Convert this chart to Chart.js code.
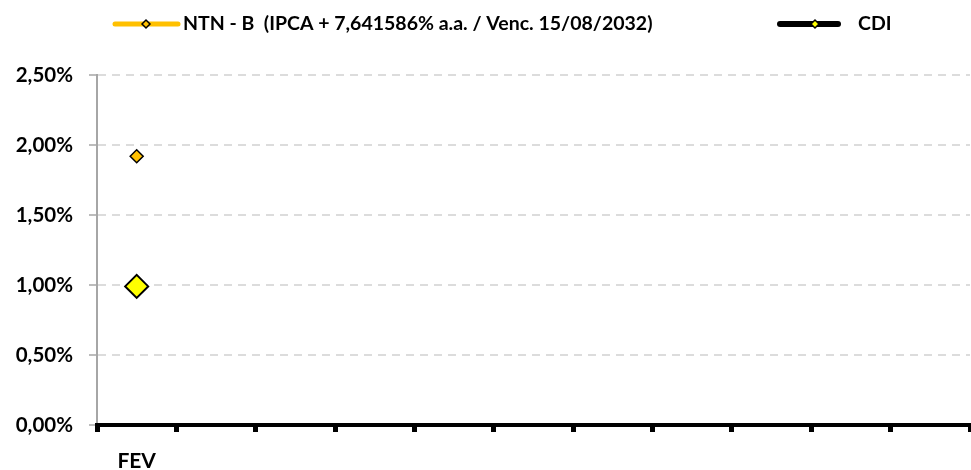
<!DOCTYPE html>
<html><head><meta charset="utf-8">
<script src="https://cdn.jsdelivr.net/npm/chart.js@4"></script>
<style>html,body{margin:0;padding:0;background:#fff}#wrap{width:971px;height:470px}</style>
</head><body><div id="wrap"><canvas id="c" width="971" height="470"></canvas></div>
<script>
const categories = ['FEV','','','','','','','','','',''];
const ntnbValues = [1.92, null, null, null, null, null, null, null, null, null, null];
const cdiValues = [0.99, null, null, null, null, null, null, null, null, null, null];
const seriesNames = ['NTN - B  (IPCA + 7,641586% a.a. / Venc. 15/08/2032)', 'CDI'];
const yTicks = [0, 0.5, 1, 1.5, 2, 2.5];

const FONT = 'Lato, "Open Sans", sans-serif';

const legendPlugin = {
  id: 'customLegend',
  afterDraw(chart) {
    const ctx = chart.ctx;
    const items = [
      {x1: 115, x2: 178, cx: 146, xt: 183, color: '#FFC000', lw: 5, dfill: '#FFC000', dr: 4, text: seriesNames[0]},
      {x1: 780, x2: 838, cx: 815, xt: 858, color: '#000000', lw: 6, dfill: '#FFFF00', dr: 4, text: seriesNames[1]}
    ];
    const y = 24;
    ctx.save();
    items.forEach(it => {
      ctx.beginPath();
      ctx.lineCap = 'round';
      ctx.strokeStyle = it.color;
      ctx.lineWidth = it.lw;
      ctx.moveTo(it.x1, y); ctx.lineTo(it.x2, y); ctx.stroke();
      const cx = it.cx;
      ctx.beginPath();
      ctx.moveTo(cx - it.dr, y); ctx.lineTo(cx, y - it.dr); ctx.lineTo(cx + it.dr, y); ctx.lineTo(cx, y + it.dr); ctx.closePath();
      ctx.fillStyle = it.dfill; ctx.fill();
      ctx.lineWidth = 1.5; ctx.strokeStyle = '#000'; ctx.stroke();
      ctx.fillStyle = '#000';
      ctx.font = 'bold 19.5px ' + FONT;
      ctx.textBaseline = 'middle';
      ctx.textAlign = 'left';
      ctx.fillText(it.text, it.xt, y);
    });
    ctx.restore();
  }
};

new Chart(document.getElementById('c'), {
  type: 'line',
  data: {
    labels: categories,
    datasets: [
      {label: seriesNames[0], data: ntnbValues, borderColor: '#FFC000', borderWidth: 5,
       pointStyle: 'rectRot', pointRadius: 6.5, pointBackgroundColor: '#FFC000', pointBorderColor: '#000', pointBorderWidth: 1.5},
      {label: seriesNames[1], data: cdiValues, borderColor: '#000', borderWidth: 6,
       pointStyle: 'rectRot', pointRadius: 11.5, pointBackgroundColor: '#FFFF00', pointBorderColor: '#000', pointBorderWidth: 2}
    ]
  },
  options: {
    responsive: false,
    animation: false,
    layout: {autoPadding: false, padding: {top: 75, right: 1, left: 0, bottom: 0}},
    plugins: {legend: {display: false}, tooltip: {enabled: false}},
    scales: {
      x: {
        offset: true,
        grid: {display: true, drawOnChartArea: false, drawTicks: true, offset: true, tickLength: 7, tickWidth: 5, tickColor: '#000'},
        border: {display: true, color: '#000', width: 4, z: 1},
        ticks: {color: '#000', font: {family: FONT, size: 21, weight: 'bold'}, padding: 17, maxRotation: 0, autoSkip: false},
        afterFit(s) { s.height = 45; s.paddingRight = 0; s.paddingLeft = 0; }
      },
      y: {
        min: 0, max: 2.5,
        afterBuildTicks(s) { s.ticks = yTicks.map(v => ({value: v})); },
        grid: {color: '#dcdcdc', lineWidth: 2, tickLength: 8, tickColor: '#a6a6a6', tickWidth: 1.5, drawTicks: true, tickBorderDash: []},
        border: {display: true, color: '#a6a6a6', width: 2, dash: [8, 6]},
        ticks: {color: '#000', padding: 16, font: {family: FONT, size: 20.5, weight: 'bold'},
          callback: v => Number(v).toFixed(2).replace('.', ',') + '%'},
        afterFit(s) { s.width = 97; }
      }
    }
  },
  plugins: [legendPlugin]
});
</script>
</body></html>
